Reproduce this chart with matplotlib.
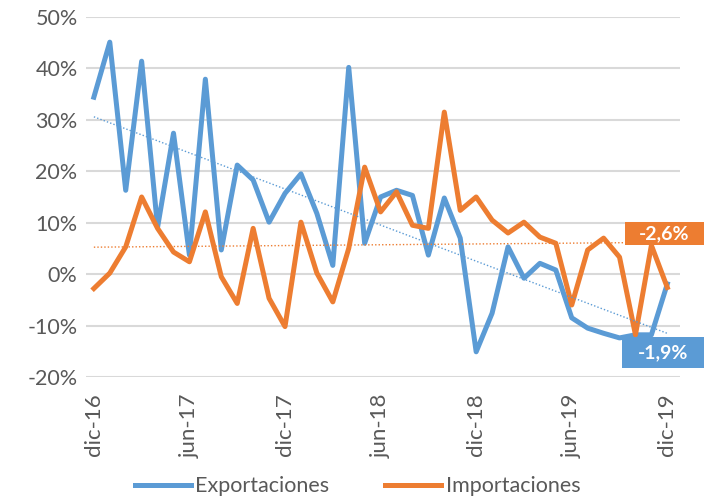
import numpy as np
import matplotlib
matplotlib.use("Agg")
import matplotlib.pyplot as plt
from matplotlib.patches import Rectangle

# monthly year-on-year change, dic-16 .. dic-19
exportaciones = [34.4, 45.1, 16.3, 41.4, 9.1, 27.4, 3.7, 37.9, 4.7, 21.2,
                 18.3, 10.1, 15.7, 19.5, 11.8, 1.7, 40.2, 6.0, 15.0, 16.3,
                 15.3, 3.7, 14.8, 7.0, -15.1, -7.6, 5.3, -0.8, 2.1, 0.8,
                 -8.5, -10.5, -11.5, -12.4, -11.8, -11.8, -1.9]
importaciones = [-2.8, 0.2, 5.3, 15.0, 8.9, 4.3, 2.4, 12.1, -0.5, -5.7,
                 8.9, -4.7, -10.2, 10.1, 0.2, -5.4, 5.0, 20.8, 12.1, 16.0,
                 9.5, 8.9, 31.5, 12.4, 15.0, 10.5, 8.0, 10.1, 7.2, 6.0,
                 -6.0, 4.7, 7.0, 3.3, -11.8, 5.6, -2.6]
tick_labels = ["dic-16", "jun-17", "dic-17", "jun-18", "dic-18", "jun-19", "dic-19"]
label_expo = "-1,9%"
label_impo = "-2,6%"

blue = "#5B9BD5"
orange = "#ED7D31"
plt.rcParams["font.family"] = ["Lato", "DejaVu Sans"]

x = np.arange(len(exportaciones))

fig = plt.figure(figsize=(7.04, 4.99), dpi=100)
ax = fig.add_axes([0.122, 0.2445, 0.844, 0.7215])

ax.plot(x, exportaciones, color=blue, lw=3.6, label="Exportaciones", solid_joinstyle="round")
ax.plot(x, importaciones, color=orange, lw=3.6, label="Importaciones", solid_joinstyle="round")

# linear trend lines
for serie, col in [(exportaciones, blue), (importaciones, orange)]:
    m, b = np.polyfit(x, serie, 1)
    ax.plot(x, m * x + b, color=col, lw=1.0, ls=(0, (1, 1.5)))

ax.set_xlim(-0.5, 36.8)
ax.set_ylim(-20, 50)
ax.set_yticks(np.arange(-20, 51, 10))
ax.set_yticklabels([f"{v}%" for v in range(-20, 51, 10)])
ax.set_xticks(np.arange(0, 37, 6))
ax.set_xticklabels(tick_labels, rotation=90)
ax.tick_params(length=0, labelsize=15.5, labelcolor="#595959")
ax.tick_params(axis="x", labelsize=16, pad=12)
ax.tick_params(axis="y", pad=6)
ax.grid(axis="y", color="#D9D9D9", lw=1.5)
ax.set_axisbelow(True)
for s in ax.spines.values():
    s.set_visible(False)

# value boxes at the right edge (figure fractions)
fig.patches.append(Rectangle((0.8878, 0.509), 0.1122, 0.046, transform=fig.transFigure,
                             fc=orange, ec="none", zorder=5))
fig.text(0.944, 0.532, label_impo, color="white", fontsize=14, fontweight="bold",
         ha="center", va="center", zorder=6)
fig.patches.append(Rectangle((0.8835, 0.2625), 0.1165, 0.062, transform=fig.transFigure,
                             fc=blue, ec="none", zorder=5))
fig.text(0.942, 0.294, label_expo, color="white", fontsize=14, fontweight="bold",
         ha="center", va="center", zorder=6)

fig.legend(loc="lower center", ncol=2, frameon=False, fontsize=15.5,
           labelcolor="#595959", handlelength=2.6, columnspacing=2.6,
           bbox_to_anchor=(0.508, -0.033), handletextpad=0.2)

fig.savefig("out.png", dpi=100)
